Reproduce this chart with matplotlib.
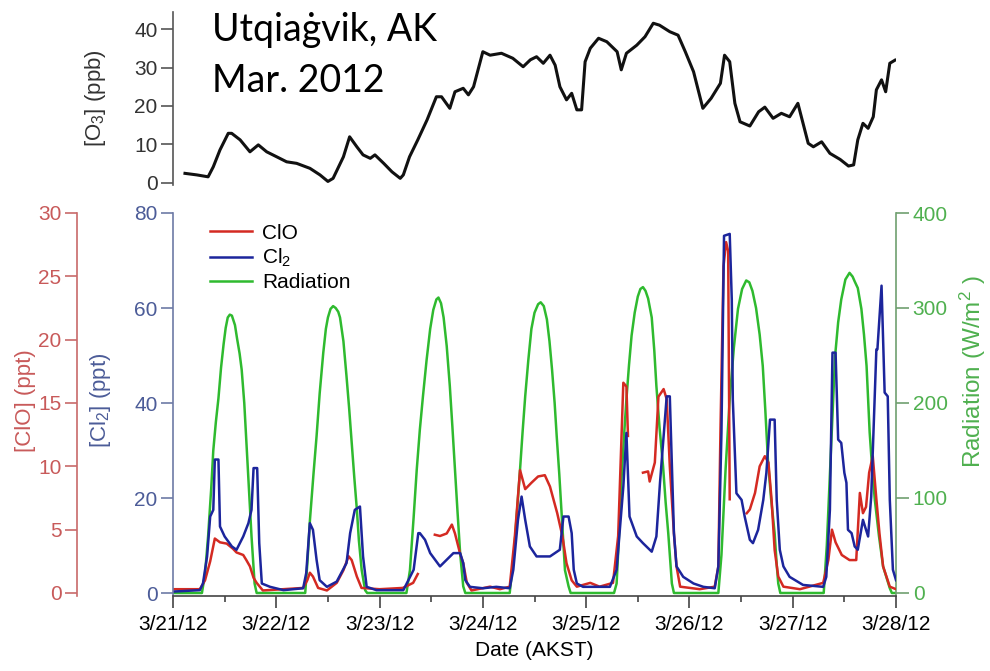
import numpy as np
import matplotlib
matplotlib.use("Agg")
import matplotlib.pyplot as plt
from matplotlib.ticker import MultipleLocator

plt.rcParams["font.family"] = ["Liberation Sans", "DejaVu Sans"]
plt.rcParams["mathtext.fontset"] = "custom"
plt.rcParams["mathtext.rm"] = "Liberation Sans"
plt.rcParams["mathtext.it"] = "Liberation Sans:italic"
plt.rcParams["mathtext.bf"] = "Liberation Sans:bold"

# time axis: days since 3/21/12 00:00 AKST
day_labels = ["3/21/12", "3/22/12", "3/23/12", "3/24/12", "3/25/12", "3/26/12", "3/27/12", "3/28/12"]

o3_t = [0.116, 0.23, 0.34, 0.39, 0.455, 0.535, 0.568, 0.65, 0.745, 0.826, 0.907, 1.004,
        1.10, 1.197, 1.326, 1.423, 1.50, 1.55, 1.65, 1.71, 1.78, 1.84, 1.91, 1.955, 2.04,
        2.12, 2.20, 2.23, 2.29, 2.37, 2.46, 2.55, 2.60, 2.68, 2.73, 2.81, 2.86, 2.91, 3.00,
        3.07, 3.18, 3.29, 3.39, 3.46, 3.52, 3.585, 3.65, 3.70, 3.746, 3.81, 3.86, 3.91,
        3.956, 3.99, 4.04, 4.12, 4.20, 4.30, 4.34, 4.39, 4.49, 4.57, 4.65, 4.71, 4.81,
        4.89, 4.96, 5.04, 5.13, 5.21, 5.30, 5.34, 5.39, 5.44, 5.49, 5.585, 5.67, 5.73,
        5.81, 5.89, 5.97, 6.05, 6.10, 6.15, 6.20, 6.28, 6.36, 6.46, 6.54, 6.59, 6.63,
        6.68, 6.73, 6.78, 6.81, 6.86, 6.90, 6.94, 6.99]
o3 = [2.5, 2.1, 1.6, 4.2, 8.6, 12.9, 12.9, 11.2, 8.1, 9.9, 8.1, 6.8,
      5.5, 5.1, 3.8, 2.1, 0.4, 1.2, 6.8, 12.0, 9.4, 7.3, 6.4, 7.3, 5.1,
      2.9, 1.2, 2.1, 6.8, 11.2, 16.4, 22.4, 22.4, 19.4, 23.7, 24.6, 22.9, 25.0, 34.1,
      33.2, 33.7, 32.4, 30.2, 32.0, 32.8, 31.1, 33.2, 30.6, 25.0, 21.6, 23.3, 19.0,
      19.0, 31.5, 35.0, 37.6, 36.7, 34.1, 29.4, 33.7, 35.8, 38.0, 41.5, 41.0, 39.3,
      38.4, 34.1, 28.9, 19.4, 22.0, 25.9, 33.2, 31.5, 20.7, 15.9, 14.8, 18.5, 19.7,
      16.8, 18.1, 17.2, 20.7, 15.5, 10.3, 9.4, 10.7, 7.7, 6.1, 4.4, 4.7, 11.2,
      15.5, 14.2, 17.2, 24.2, 26.8, 23.7, 31.1, 31.9]

cl2_t = [0.00, 0.165, 0.26, 0.29, 0.33, 0.36, 0.39, 0.405, 0.44, 0.455, 0.50, 0.57, 0.615,
         0.68, 0.73, 0.76, 0.78, 0.815, 0.835, 0.86, 0.94, 1.07, 1.26, 1.29, 1.325, 1.355,
         1.39, 1.42, 1.49, 1.585, 1.68, 1.715, 1.76, 1.81, 1.84, 1.875, 1.97, 2.23, 2.33,
         2.375, 2.39, 2.44, 2.49, 2.585, 2.65, 2.715, 2.78, 2.81, 2.83, 2.875, 3.00, 3.13,
         3.26, 3.295, 3.34, 3.375, 3.41, 3.455, 3.52, 3.65, 3.745, 3.78, 3.83, 3.86, 3.88,
         3.91, 3.97, 4.23, 4.295, 4.36, 4.39, 4.42, 4.49, 4.55, 4.635, 4.68, 4.715, 4.75,
         4.78, 4.81, 4.83, 4.85, 4.875, 4.94, 5.04, 5.135, 5.245, 5.28, 5.31, 5.335, 5.39,
         5.41, 5.42, 5.455, 5.505, 5.535, 5.585, 5.615, 5.665, 5.715, 5.745, 5.78, 5.825,
         5.845, 5.875, 5.91, 5.97, 6.10, 6.295, 6.325, 6.36, 6.385, 6.415, 6.44, 6.47,
         6.50, 6.52, 6.535, 6.57, 6.60, 6.63, 6.68, 6.73, 6.76, 6.81, 6.82, 6.86, 6.89,
         6.92, 6.94, 6.97, 7.00]
cl2 = [0.3, 0.5, 0.6, 2.0, 7.7, 16.1, 17.5, 28.1, 28.1, 14.0, 11.9, 9.8, 9.1,
       11.9, 14.7, 17.5, 26.3, 26.3, 10.5, 2.0, 1.3, 0.6, 1.0, 4.2, 14.7, 13.3,
       7.0, 2.7, 1.3, 2.4, 6.3, 12.6, 17.5, 18.2, 7.7, 1.3, 0.6, 0.6, 4.9,
       12.6, 12.6, 11.2, 8.4, 5.6, 7.0, 8.4, 8.4, 6.3, 2.7, 1.3, 1.0, 1.3,
       1.0, 4.9, 15.4, 20.3, 15.4, 9.8, 7.7, 7.7, 9.1, 16.1, 16.1, 12.6, 4.9,
       2.0, 1.3, 1.3, 4.9, 22.4, 33.7, 16.1, 11.9, 10.5, 8.7, 11.9, 23.2, 33.0,
       41.4, 41.4, 26.7, 12.6, 5.6, 3.4, 2.0, 1.3, 1.0, 5.6, 33.7, 75.2, 75.6,
       61.8, 40.7, 21.0, 19.6, 16.1, 11.2, 10.5, 13.3, 19.6, 25.3, 36.5, 36.5,
       19.6, 9.1, 5.6, 3.4, 1.7, 1.3, 3.4, 17.5, 50.6, 50.6, 32.3, 31.6,
       25.3, 23.2, 13.3, 12.6, 9.8, 9.1, 15.4, 11.9, 20.3, 51.3, 51.3, 64.7, 42.2,
       41.4, 19.6, 4.9, 2.7]

nan = float("nan")
clo_t = [0.00, 0.26, 0.31, 0.36, 0.405, 0.455, 0.52, 0.58, 0.615, 0.68, 0.71, 0.745, 0.78,
         0.81, 0.87, 1.065, 1.26, 1.30, 1.325, 1.355, 1.405, 1.49, 1.585, 1.65, 1.70, 1.73,
         1.78, 1.825, 2.00, 2.225, 2.325, 2.37, 2.40, 2.535, 2.585, 2.65, 2.70, 2.73, 2.78,
         2.81, 2.845, 2.89, 3.07, 3.165, 3.26, 3.31, 3.36, 3.41, 3.47, 3.535, 3.60, 3.65,
         3.72, 3.77, 3.81, 3.86, 3.91, 4.04, 4.13, 4.26, 4.31, 4.36, 4.39, 4.405, 4.45,
         4.55, 4.60, 4.615, 4.665, 4.70, 4.75, 4.78, 4.81, 4.85, 4.875, 4.91, 5.10, 5.245,
         5.28, 5.30, 5.33, 5.355, 5.375, 5.39, 5.45, 5.555, 5.585, 5.635, 5.68, 5.73,
         5.765, 5.795, 5.825, 5.86, 5.91, 6.07, 6.295, 6.345, 6.38, 6.415, 6.475, 6.55,
         6.615, 6.65, 6.68, 6.71, 6.74, 6.775, 6.81, 6.84, 6.875, 6.94, 7.00]
clo = [0.3, 0.3, 1.0, 2.5, 4.3, 4.0, 3.9, 3.5, 3.2, 3.0, 2.6, 2.1, 1.2,
       0.8, 0.2, 0.3, 0.4, 1.0, 1.6, 1.3, 0.4, 0.2, 0.8, 1.8, 2.9, 2.6,
       1.3, 0.4, 0.3, 0.4, 0.8, 1.5, nan, 4.6, 4.5, 4.7, 5.4, 4.7, 3.1,
       2.35, 0.8, 0.2, 0.5, 0.3, 0.5, 4.5, 9.7, 8.2, 8.7, 9.2, 9.3, 8.4,
       6.3, 4.5, 2.35, 1.0, 0.5, 0.8, 0.5, 0.8, 4.5, 16.6, 16.3, 12.4, nan,
       9.5, 9.6, 8.8, 10.3, 15.5, 16.1, 15.3, 10.0, 4.7, 2.1, 0.5, 0.3, 0.5,
       2.1, 12.6, 25.8, 27.7, 27.0, 7.4, nan, 6.3, 6.6, 7.9, 10.0, 10.8,
       10.3, 7.4, 3.4, 1.3, 0.5, 0.3, 0.8, 2.6, 5.0, 4.0, 3.0, 2.6,
       2.6, 7.9, 6.3, 6.8, 9.5, 10.8, 7.4, 4.7, 2.1, 0.5, 0.3]

rad_t = [0.00,
         0.28, 0.31, 0.34, 0.37, 0.39, 0.415, 0.44, 0.465, 0.49, 0.51, 0.53, 0.55, 0.57,
         0.60, 0.62, 0.645, 0.665, 0.69, 0.71, 0.735, 0.76, 0.79, 0.81,
         1.28, 1.30, 1.326, 1.36, 1.39, 1.42, 1.455, 1.48, 1.50, 1.525, 1.55, 1.575, 1.60,
         1.617, 1.65, 1.68, 1.705, 1.73, 1.755, 1.78, 1.80, 1.827, 1.86, 1.88,
         2.26, 2.294, 2.33, 2.36, 2.39, 2.42, 2.455, 2.49, 2.52, 2.55, 2.57, 2.595, 2.62,
         2.65, 2.68, 2.705, 2.73, 2.755, 2.78, 2.81, 2.83,
         3.26, 3.30, 3.33, 3.36, 3.385, 3.41, 3.44, 3.47, 3.50, 3.535, 3.56, 3.59, 3.62,
         3.645, 3.67, 3.695, 3.715, 3.74, 3.76, 3.78, 3.795, 3.83, 3.85,
         4.27, 4.295, 4.32, 4.34, 4.365, 4.39, 4.415, 4.44, 4.47, 4.50, 4.525, 4.55, 4.575,
         4.60, 4.635, 4.66, 4.68, 4.71, 4.745, 4.77, 4.795, 4.815, 4.83, 4.85,
         5.28, 5.31, 5.35, 5.39, 5.43, 5.47, 5.51, 5.55, 5.58, 5.61, 5.645, 5.68, 5.71,
         5.735, 5.76, 5.79, 5.825, 5.845, 5.86, 5.88,
         6.30, 6.33, 6.37, 6.41, 6.44, 6.47, 6.51, 6.55, 6.58, 6.60, 6.63, 6.665, 6.69,
         6.715, 6.745, 6.77, 6.795, 6.835, 6.875, 6.94, 6.96, 7.00]
rad = [0,
       0, 20, 60, 110, 150, 180, 205, 237, 262, 279, 290, 293, 292,
       282, 268, 252, 235, 200, 160, 110, 60, 10, 0,
       0, 30, 77, 125, 165, 210, 253, 278, 290, 299, 302, 300, 296,
       290, 265, 228, 195, 158, 122, 88, 55, 24, 3, 0,
       0, 24, 80, 130, 172, 207, 245, 278, 298, 309, 311, 305, 290,
       260, 218, 175, 130, 85, 42, 7, 0,
       0, 40, 85, 130, 170, 207, 245, 278, 295, 304, 306, 302, 288,
       265, 235, 200, 165, 125, 88, 50, 24, 7, 0,
       0, 10, 65, 116, 162, 204, 240, 271, 295, 312, 320, 322, 318,
       310, 290, 255, 218, 175, 133, 95, 63, 33, 10, 0,
       0, 40, 130, 204, 258, 299, 320, 329, 327, 318, 300, 272, 239,
       192, 140, 100, 63, 30, 10, 0,
       0, 50, 150, 249, 285, 309, 330, 337, 333, 328, 321, 299, 272,
       239, 169, 130, 98, 60, 28, 5, 0, 0]

W, H = 990, 671
def px(l, t, r, b):
    return [l / W, 1 - b / H, (r - l) / W, (b - t) / H]

RED, BLUE, GREEN = "#d42a22", "#1c259c", "#2fba2f"
RED_AX, BLUE_AX, GREEN_AX = "#c86a6a", "#6d7aa6", "#6f9f6f"
RED_TX, BLUE_TX, GREEN_TX = "#c85a5a", "#4c5c98", "#4fb04f"
TICK_FS = 15
LAB_FS = 16

fig = plt.figure(figsize=(9.9, 6.71), dpi=100)

# ---- top panel: ozone ----
ax_o3 = fig.add_axes(px(173, 11.7, 896, 184.9))
ax_o3.plot(o3_t, o3, color="#111111", lw=2.2)
ax_o3.set_xlim(0, 7)
ax_o3.set_ylim(-0.5, 44.5)
for s in ("top", "right", "bottom"):
    ax_o3.spines[s].set_visible(False)
ax_o3.spines["left"].set_color("#555555")
ax_o3.spines["left"].set_linewidth(1.2)
ax_o3.set_xticks([])
ax_o3.yaxis.set_major_locator(MultipleLocator(10))
ax_o3.tick_params(axis="y", length=9, width=1.2, color="#555555", labelsize=TICK_FS,
                  labelcolor="#333333", pad=2)
ax_o3.set_ylabel("[O$_3$] (ppb)", fontsize=LAB_FS, color="#333333")
ax_o3.yaxis.set_label_coords(-0.09, 0.5)
ax_o3.patch.set_visible(False)

fig.text(212 / W, 1 - 41 / H, "Utqiaġvik, AK", fontsize=27, va="baseline",
         family=["Lato", "DejaVu Sans"])
fig.text(212 / W, 1 - 92 / H, "Mar. 2012", fontsize=27, va="baseline",
         family=["Lato", "DejaVu Sans"])

# ---- bottom panel ----
ax = fig.add_axes(px(173, 213, 896, 596))
ax_clo = ax.twinx()
ax_rad = ax.twinx()
ax_rad.set_zorder(1)
ax_clo.set_zorder(2)
ax.set_zorder(3)
for a in (ax, ax_clo, ax_rad):
    a.patch.set_visible(False)
    for s in a.spines.values():
        s.set_visible(False)

l_rad, = ax_rad.plot(rad_t, rad, color=GREEN, lw=1.8, label="Radiation")
l_clo, = ax_clo.plot(clo_t, clo, color=RED, lw=1.8, label="ClO")
l_cl2, = ax.plot(cl2_t, cl2, color=BLUE, lw=1.8, label="Cl$_2$")

ax.set_xlim(0, 7)
ax.set_ylim(-0.63, 80)
ax_clo.set_ylim(-0.237, 30)
ax_rad.set_ylim(-3.16, 400)

# x axis
ax.spines["bottom"].set_visible(True)
ax.spines["bottom"].set_color("#444444")
ax.spines["bottom"].set_linewidth(1.2)
ax.set_xticks(range(len(day_labels)))
ax.set_xticklabels(day_labels)
ax.xaxis.set_minor_locator(MultipleLocator(0.5))
ax.tick_params(axis="x", which="major", length=8.5, width=1.2, color="#444444",
               labelsize=TICK_FS, pad=5)
ax.tick_params(axis="x", which="minor", length=4, width=1.2, color="#444444")
ax.set_xlabel("Date (AKST)", fontsize=TICK_FS, va="top")
ax.xaxis.set_label_coords(0.5, -0.117)

# Cl2 axis (left, inner)
ax.spines["left"].set_visible(True)
ax.spines["left"].set_color(BLUE_AX)
ax.spines["left"].set_linewidth(1.2)
ax.yaxis.set_major_locator(MultipleLocator(20))
ax.tick_params(axis="y", length=9, width=1.2, color=BLUE_AX, labelcolor=BLUE_TX,
               labelsize=TICK_FS, pad=2)
ax.set_ylabel("[Cl$_2$] (ppt)", fontsize=LAB_FS, color=BLUE_TX)
ax.yaxis.set_label_coords(-0.083, 0.51)

# ClO axis (left, outer)
ax_clo.spines["left"].set_visible(True)
ax_clo.spines["left"].set_position(("axes", -0.133))
ax_clo.spines["left"].set_color(RED_AX)
ax_clo.spines["left"].set_linewidth(1.2)
ax_clo.yaxis.set_ticks_position("left")
ax_clo.yaxis.set_label_position("left")
ax_clo.yaxis.set_major_locator(MultipleLocator(5))
ax_clo.tick_params(axis="y", length=9, width=1.2, color=RED_AX, labelcolor=RED_TX,
                   labelsize=TICK_FS, pad=2)
ax_clo.set_ylabel("[ClO] (ppt)", fontsize=LAB_FS, color=RED_TX)
ax_clo.yaxis.set_label_coords(-0.19, 0.51)

# Radiation axis (right)
ax_rad.spines["right"].set_visible(True)
ax_rad.spines["right"].set_color(GREEN_AX)
ax_rad.spines["right"].set_linewidth(1.2)
ax_rad.yaxis.set_major_locator(MultipleLocator(100))
ax_rad.tick_params(axis="y", length=9, width=1.2, color=GREEN_AX, labelcolor=GREEN_TX,
                   labelsize=TICK_FS, pad=3)
ax_rad.set_ylabel("Radiation (W/m$^2$ )", fontsize=17.5, color=GREEN_TX)
ax_rad.yaxis.set_label_coords(1.085, 0.585)

ax.legend(handles=[l_clo, l_cl2, l_rad], loc="upper left", bbox_to_anchor=(0.051, 0.972),
          frameon=False, fontsize=TICK_FS, handlelength=2.0, handletextpad=0.5,
          labelspacing=0.2, borderpad=0, borderaxespad=0)

fig.savefig("out.png", dpi=100, facecolor="white")
